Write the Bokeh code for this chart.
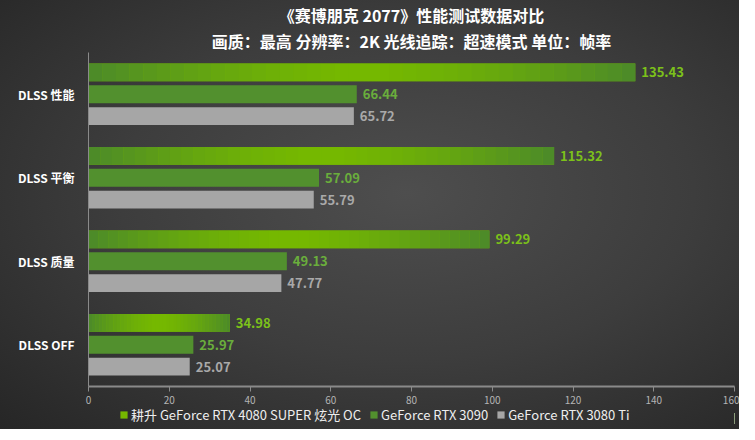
from bokeh.plotting import figure
from bokeh.layouts import column
from bokeh.models import FactorRange, ColumnDataSource, Title, Legend, LegendItem
from bokeh.transform import dodge
from bokeh.core.properties import value
from bokeh.embed import file_html
from bokeh.resources import INLINE

categories = ["DLSS 性能", "DLSS 平衡", "DLSS 质量", "DLSS OFF"]
series_names = ["耕升 GeForce RTX 4080 SUPER 炫光 OC", "GeForce RTX 3090", "GeForce RTX 3080 Ti"]
series_colors = ["#76b900", "#52902e", "#a6a6a6"]
rtx4080s = [135.43, 115.32, 99.29, 34.98]
rtx3090 = [66.44, 57.09, 49.13, 25.97]
rtx3080ti = [65.72, 55.79, 47.77, 25.07]
x_ticks = [0, 20, 40, 60, 80, 100, 120, 140, 160]

FONT = "Noto Sans CJK SC"

p = figure(width=739, height=407, output_backend="svg", toolbar_location=None,
           y_range=FactorRange(factors=categories[::-1], range_padding=0),
           x_range=(0, 160), min_border_left=88, min_border_right=5,
           min_border_top=50, min_border_bottom=21)
p.background_fill_color = None
p.border_fill_color = None
p.outline_line_color = None
p.grid.visible = False

OFF1, OFF3 = 0.262, -0.262
H = 0.214

def hx(c):
    return tuple(int(c[i:i + 2], 16) for i in (1, 3, 5))

dark, bright = hx("#4c8a2a"), hx("#76b900")

src1 = ColumnDataSource(dict(cat=categories, v=rtx4080s, lab=[f"{v:.2f}" for v in rtx4080s]))
src2 = ColumnDataSource(dict(cat=categories, v=rtx3090, lab=[f"{v:.2f}" for v in rtx3090]))
src3 = ColumnDataSource(dict(cat=categories, v=rtx3080ti, lab=[f"{v:.2f}" for v in rtx3080ti]))
sources = [src1, src2, src3]

p.hbar(y=dodge("cat", OFF1, range=p.y_range), left=0, right="v", height=H, source=src1,
       fill_color=series_colors[0], line_color=None)
# gradient overlay for first series (segments derived from each bar's value)
N = 40
seg = dict(cat=[], l=[], r=[], c=[])
for cat, v in zip(categories, rtx4080s):
    for i in range(N):
        t = (i + 0.5) / N
        w = max(0.0, 1 - abs(2 * t - 1) ** 1.5)
        col = "#%02x%02x%02x" % tuple(int(dark[k] + (bright[k] - dark[k]) * w) for k in range(3))
        seg["cat"].append(cat)
        seg["l"].append(v * i / N)
        seg["r"].append(v * (i + 1) / N + (0.05 if i < N - 1 else 0))
        seg["c"].append(col)
p.hbar(y=dodge("cat", OFF1, range=p.y_range), left="l", right="r", height=H,
       source=ColumnDataSource(seg), fill_color="c", line_color=None)

p.hbar(y=dodge("cat", 0, range=p.y_range), left=0, right="v", height=H, source=src2,
       fill_color=series_colors[1], line_color=None)
p.hbar(y=dodge("cat", OFF3, range=p.y_range), left=0, right="v", height=H, source=src3,
       fill_color=series_colors[2], line_color=None)

for src, off, col in [(src1, OFF1, "#7cc11a"), (src2, 0, "#6aae3c"), (src3, OFF3, "#a9a9a9")]:
    p.text(x="v", y=dodge("cat", off, range=p.y_range), text="lab", source=src,
           x_offset=6, text_baseline="middle", text_align="left",
           text_font=value(FONT), text_font_size="13px", text_font_style="bold", text_color=col)

p.xaxis.ticker = x_ticks
p.xaxis.axis_line_color = "#8a8a8a"
p.xaxis.axis_line_width = 2
p.xaxis.major_tick_line_color = "#8a8a8a"
p.xaxis.major_tick_out = 5
p.xaxis.major_tick_in = 0
p.xaxis.minor_tick_line_color = None
p.xaxis.major_label_text_color = "#b4b4b4"
p.xaxis.major_label_text_font = FONT
p.xaxis.major_label_text_font_size = "10px"
p.xaxis.major_label_standoff = 4

p.yaxis.axis_line_color = "#8a8a8a"
p.yaxis.major_tick_line_color = None
p.yaxis.major_label_text_color = "#ffffff"
p.yaxis.major_label_text_font = FONT
p.yaxis.major_label_text_font_size = "12px"
p.yaxis.major_label_text_font_style = "bold"
p.yaxis.major_label_standoff = 8

p.title.visible = False
t2 = Title(text="画质：最高 分辨率：2K 光线追踪：超速模式 单位：帧率", align="center",
           text_font=FONT, text_font_size="16px", text_font_style="bold", text_color="#ffffff",
           offset=-57, standoff=0)
t1 = Title(text="《赛博朋克 2077》性能测试数据对比", align="center",
           text_font=FONT, text_font_size="16px", text_font_style="bold", text_color="#ffffff",
           offset=-57, standoff=0)
p.add_layout(t2, "above")
p.add_layout(t1, "above")

# legend strip below the chart; its proxy bars lie outside the strip's x range
lg = figure(width=739, height=22, output_backend="svg", toolbar_location=None,
            x_axis_location=None, y_axis_location=None, x_range=(-2, -1), y_range=(0, 1),
            min_border=0)
lg.background_fill_color = None
lg.border_fill_color = None
lg.outline_line_color = None
lg.grid.visible = False
items = []
for name, col, src in zip(series_names, series_colors, sources):
    r = lg.hbar(y=0.5, left=0, right="v", height=0.5, source=src, fill_color=col, line_color=None)
    items.append(LegendItem(label=name, renderers=[r]))
legend = Legend(items=items, orientation="horizontal", location=(31, 5),
                background_fill_alpha=0, border_line_color=None,
                label_text_color="#eeeeee", label_text_font=FONT, label_text_font_size="13px",
                label_height=14, glyph_width=9, glyph_height=9, label_standoff=3, spacing=8,
                padding=0, margin=0)
lg.add_layout(legend)

layout = column(p, lg, spacing=0)
layout.styles = {"background": "radial-gradient(ellipse at 55% 45%, #4e4e4e 0%, #3d3d3d 50%, #262626 100%)"}

html = file_html(layout, INLINE)
html = html.replace("<body>", '<body style="background:#2e2e2e">', 1)
open("out.html", "w").write(html)
